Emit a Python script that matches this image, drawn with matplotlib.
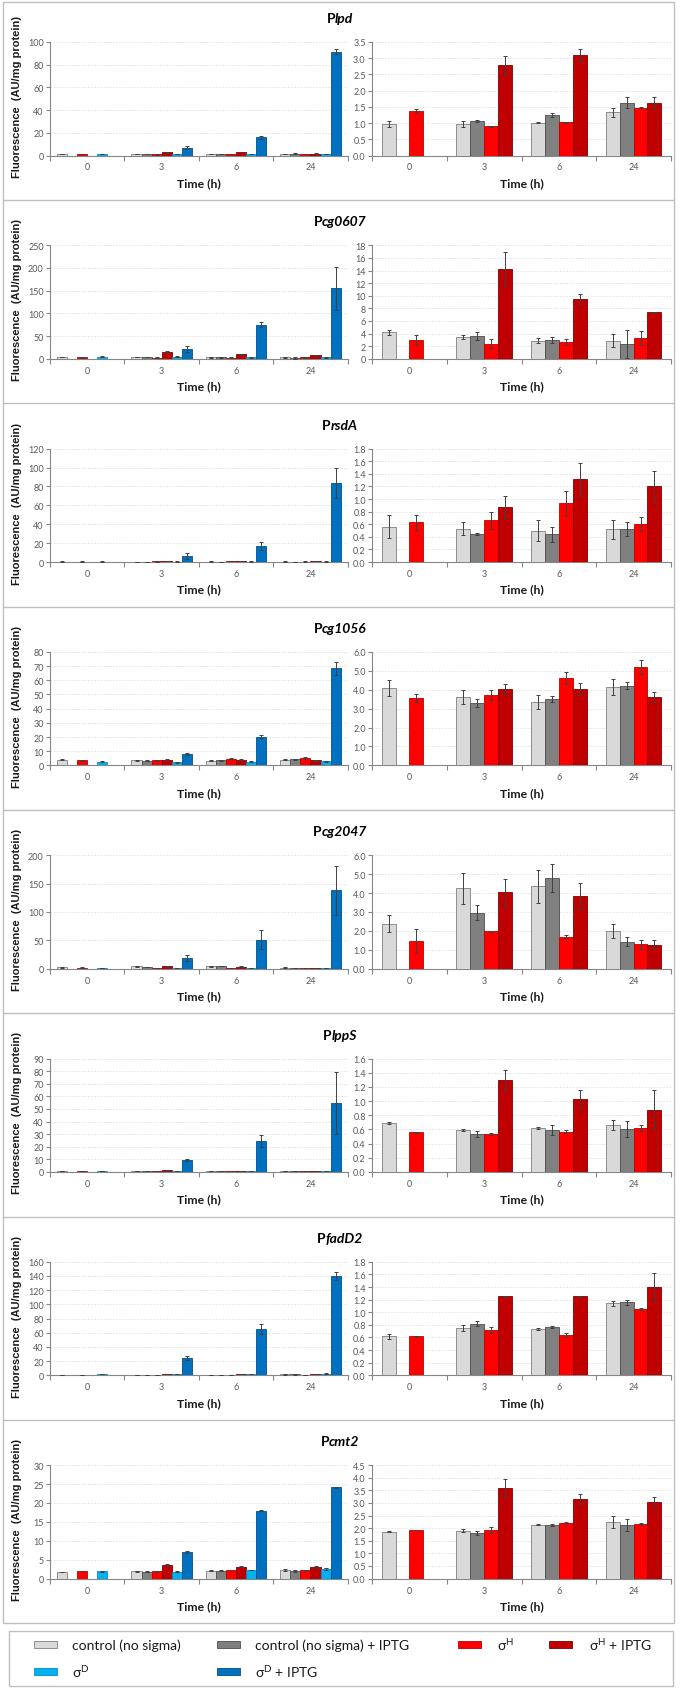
import numpy as np
import matplotlib.pyplot as plt
from matplotlib.patches import Rectangle
from matplotlib.lines import Line2D
from matplotlib.ticker import FormatStrFormatter

plt.rcParams['font.family'] = ['Lato', 'DejaVu Sans']
plt.rcParams['mathtext.fontset'] = 'custom'
plt.rcParams['mathtext.rm'] = 'Lato'
plt.rcParams['mathtext.it'] = 'Lato:italic'
plt.rcParams['mathtext.bf'] = 'Lato:bold'

nan = np.nan

times = ['0', '3', '6', '24']
series_names = ['control (no sigma)', 'control (no sigma) + IPTG',
                r'σ$^{\mathrm{H}}$', r'σ$^{\mathrm{H}}$ + IPTG',
                r'σ$^{\mathrm{D}}$', r'σ$^{\mathrm{D}}$ + IPTG']
face_colors = ['#D9D9D9', '#808080', '#FF0000', '#C00000', '#00B0F0', '#0070C0']
edge_colors = ['#7F7F7F', '#4D4D4D', '#C00000', '#7F0000', '#0090C8', '#00508C']

# rows: control, control+IPTG, sigH, sigH+IPTG, sigD, sigD+IPTG ; columns: 0, 3, 6, 24 h
lpd_mean = [[0.98, 0.98, 1.01, 1.33], [nan, 1.07, 1.26, 1.63], [1.38, 0.90, 1.02, 1.48],
            [nan, 2.78, 3.10, 1.62], [1.0, 1.0, 1.0, 1.5], [nan, 7.0, 16.0, 91.5]]
lpd_err = [[0.09, 0.09, 0.02, 0.14], [nan, 0.04, 0.06, 0.18], [0.06, 0.02, 0.02, 0.03],
           [nan, 0.30, 0.18, 0.19], [0.1, 0.1, 0.1, 0.2], [nan, 1.3, 1.5, 2.5]]

cg0607_mean = [[4.2, 3.45, 2.9, 2.9], [nan, 3.6, 2.95, 2.35], [2.95, 2.4, 2.65, 3.3],
               [nan, 14.3, 9.5, 7.35], [5.0, 5.0, 3.0, 3.0], [nan, 22.0, 75.0, 155.0]]
cg0607_err = [[0.35, 0.25, 0.35, 1.0], [nan, 0.6, 0.5, 2.2], [0.8, 0.7, 0.45, 1.1],
              [nan, 2.6, 0.8, 0.15], [2.0, 2.0, 1.0, 0.5], [nan, 7.0, 5.0, 47.0]]

rsdA_mean = [[0.56, 0.53, 0.50, 0.52], [nan, 0.44, 0.44, 0.52], [0.63, 0.66, 0.93, 0.60],
             [nan, 0.87, 1.31, 1.20], [0.6, 0.6, 0.6, 0.6], [nan, 6.5, 17.0, 84.0]]
rsdA_err = [[0.18, 0.10, 0.17, 0.15], [nan, 0.015, 0.12, 0.11], [0.12, 0.13, 0.20, 0.11],
            [nan, 0.18, 0.26, 0.25], [0.05, 0.05, 0.05, 0.05], [nan, 3.0, 4.0, 16.0]]

cg1056_mean = [[4.1, 3.62, 3.35, 4.15], [nan, 3.3, 3.52, 4.22], [3.57, 3.72, 4.63, 5.22],
               [nan, 4.02, 4.05, 3.62], [2.7, 2.2, 2.7, 3.0], [nan, 8.0, 20.3, 68.5]]
cg1056_err = [[0.42, 0.38, 0.38, 0.42], [nan, 0.22, 0.17, 0.2], [0.22, 0.27, 0.32, 0.37],
              [nan, 0.3, 0.33, 0.28], [0.3, 0.3, 0.3, 0.3], [nan, 0.5, 1.3, 4.5]]

cg2047_mean = [[2.38, 4.25, 4.35, 2.0], [nan, 2.97, 4.8, 1.43], [1.47, 1.97, 1.7, 1.28],
               [nan, 4.03, 3.83, 1.27], [1.5, 1.5, 1.5, 1.5], [nan, 19.0, 51.0, 138.0]]
cg2047_err = [[0.45, 0.82, 0.88, 0.38], [nan, 0.42, 0.72, 0.22], [0.65, 0.04, 0.06, 0.26],
              [nan, 0.7, 0.7, 0.23], [0.2, 0.2, 0.2, 0.2], [nan, 5.5, 17.0, 43.0]]

lppS_mean = [[0.69, 0.59, 0.62, 0.66], [nan, 0.54, 0.59, 0.61], [0.56, 0.53, 0.57, 0.62],
             [nan, 1.29, 1.03, 0.88], [0.6, 0.6, 0.6, 0.6], [nan, 9.5, 24.5, 54.5]]
lppS_err = [[0.01, 0.01, 0.015, 0.07], [nan, 0.04, 0.07, 0.11], [0.01, 0.015, 0.02, 0.04],
            [nan, 0.15, 0.13, 0.28], [0.05, 0.05, 0.05, 0.05], [nan, 0.8, 4.5, 24.5]]

fadD2_mean = [[0.62, 0.75, 0.73, 1.14], [nan, 0.82, 0.76, 1.16], [0.62, 0.72, 0.64, 1.05],
              [nan, 1.25, 1.25, 1.40], [1.5, 1.5, 1.5, 2.5], [nan, 24.0, 65.5, 140.0]]
fadD2_err = [[0.04, 0.05, 0.015, 0.04], [nan, 0.04, 0.015, 0.04], [0.01, 0.05, 0.03, 0.015],
             [nan, 0.01, 0.015, 0.22], [0.1, 0.1, 0.1, 0.2], [nan, 3.0, 7.0, 6.0]]

cmt2_mean = [[1.85, 1.9, 2.13, 2.25], [nan, 1.82, 2.13, 2.12], [1.93, 1.93, 2.2, 2.17],
             [nan, 3.58, 3.17, 3.02], [1.9, 1.8, 2.2, 2.5], [nan, 7.0, 18.0, 24.1]]
cmt2_err = [[0.02, 0.07, 0.02, 0.25], [nan, 0.08, 0.03, 0.25], [0.01, 0.12, 0.03, 0.05],
            [nan, 0.35, 0.2, 0.23], [0.05, 0.15, 0.05, 0.2], [nan, 0.3, 0.2, 0.2]]

genes = ['lpd', 'cg0607', 'rsdA', 'cg1056', 'cg2047', 'lppS', 'fadD2', 'cmt2']
means = [lpd_mean, cg0607_mean, rsdA_mean, cg1056_mean, cg2047_mean, lppS_mean, fadD2_mean, cmt2_mean]
errs = [lpd_err, cg0607_err, rsdA_err, cg1056_err, cg2047_err, lppS_err, fadD2_err, cmt2_err]

left_ymax = [100, 250, 120, 80, 200, 90, 160, 30]
left_ystep = [20, 50, 20, 10, 50, 10, 20, 5]
right_ymax = [3.5, 18, 1.8, 6, 6, 1.6, 1.8, 4.5]
right_ystep = [0.5, 2, 0.2, 1, 1, 0.2, 0.2, 0.5]
right_fmt = ['%.1f', '%d', '%.1f', '%.1f', '%.1f', '%.1f', '%.1f', '%.1f']

W, H = 681, 1690
fig = plt.figure(figsize=(W / 100, H / 100), dpi=100)


def fx(x):
    return x / W


def fy(y):
    return 1 - y / H


def draw_bars(ax, mean, err, n, width):
    x = np.arange(4) + 0.5
    for i in range(n):
        pos = x + (i - (n - 1) / 2) * width
        ax.bar(pos, mean[i], width, color=face_colors[i], edgecolor=edge_colors[i],
               linewidth=0.6, zorder=3)
        ax.errorbar(pos, mean[i], yerr=err[i], fmt='none', ecolor='#404040',
                    elinewidth=0.7, capsize=1.3, capthick=0.7, zorder=4)


def style(ax, ymax, step, fmt):
    ax.set_xlim(0, 4)
    ax.set_ylim(0, ymax)
    ax.set_yticks(np.arange(0, ymax + step / 2, step))
    ax.yaxis.set_major_formatter(FormatStrFormatter(fmt))
    ax.set_xticks(np.arange(4) + 0.5)
    ax.set_xticklabels(times)
    ax.set_xticks(np.arange(5), minor=True)
    ax.tick_params(axis='x', which='major', length=0, pad=5, labelsize=6.5, labelcolor='#595959')
    ax.tick_params(axis='x', which='minor', length=3.5, color='#868686', width=0.8)
    ax.tick_params(axis='y', length=3, color='#868686', width=0.8, labelsize=6.5,
                   labelcolor='#595959', pad=1.5)
    for s in ['top', 'right']:
        ax.spines[s].set_visible(False)
    for s in ['left', 'bottom']:
        ax.spines[s].set_color('#868686')
        ax.spines[s].set_linewidth(0.8)
    ax.grid(axis='y', color='#DCDCDC', linestyle=(0, (2.5, 2)), linewidth=0.5)
    ax.set_axisbelow(True)
    ax.set_xlabel('Time (h)', fontsize=8.8, fontweight='bold', color='#1a1a1a')
    ax.xaxis.set_label_coords(0.5, -0.19)


row_bottoms = [201 + k * 203.3 for k in range(8)]
titles = []
for k, B in enumerate(row_bottoms):
    ax_h = 113.5
    ax_l = fig.add_axes([fx(50), fy(B - 44.5), fx(297.7), ax_h / H])
    ax_r = fig.add_axes([fx(372), fy(B - 44.5), fx(299), ax_h / H])
    draw_bars(ax_l, means[k], errs[k], 6, 0.135)
    draw_bars(ax_r, means[k], errs[k], 4, 0.185)
    style(ax_l, left_ymax[k], left_ystep[k], '%d')
    style(ax_r, right_ymax[k], right_ystep[k], right_fmt[k])
    fig.text(fx(17), fy(B - 104), 'Fluorescence  (AU/mg protein)', rotation=90,
             ha='center', va='center', fontsize=8, fontweight='bold',
             family='Liberation Sans', color='#1a1a1a')
    t1 = fig.text(0, fy(B - 178), 'P', fontsize=10, fontweight='bold', va='baseline')
    t2 = fig.text(0, fy(B - 178), genes[k], fontsize=10, fontweight='bold',
                  style='italic', va='baseline')
    titles.append((t1, t2))

# frames around the rows
grey = '#BFBFBF'
fig.add_artist(Rectangle((fx(3), fy(row_bottoms[-1])), fx(671), (row_bottoms[-1] - 3) / H,
                         transform=fig.transFigure, fill=False, ec=grey, lw=1))
for B in row_bottoms[:-1]:
    fig.add_artist(Line2D([fx(3), fx(674)], [fy(B), fy(B)], transform=fig.transFigure,
                          color=grey, lw=1))

# legend box
fig.add_artist(Rectangle((fx(9.3), fy(1686.7)), fx(663.7), 55 / H,
                         transform=fig.transFigure, fill=False, ec=grey, lw=1))
leg_patch_x = [34.3, 217.3, 458.3, 549.3, 34.3, 217.3]
leg_text_x = [71.7, 255, 496.7, 589.3, 71.7, 255]
leg_y = [1645.3, 1645.3, 1645.3, 1645.3, 1672.5, 1672.5]
for i in range(6):
    fig.add_artist(Rectangle((fx(leg_patch_x[i]), fy(leg_y[i] + 3.7)), fx(23), 7.4 / H,
                             transform=fig.transFigure, fc=face_colors[i], ec=edge_colors[i], lw=0.6))
    fig.text(fx(leg_text_x[i]), fy(leg_y[i]), series_names[i], fontsize=10,
             va='center', ha='left', color='#1a1a1a')

# centre the mixed-style titles
fig.canvas.draw()
r = fig.canvas.get_renderer()
for t1, t2 in titles:
    w1 = t1.get_window_extent(r).width
    w2 = t2.get_window_extent(r).width
    x0 = 340 - (w1 + w2) / 2
    t1.set_x(fx(x0))
    t2.set_x(fx(x0 + w1))

fig.savefig('out.png', dpi=100)
